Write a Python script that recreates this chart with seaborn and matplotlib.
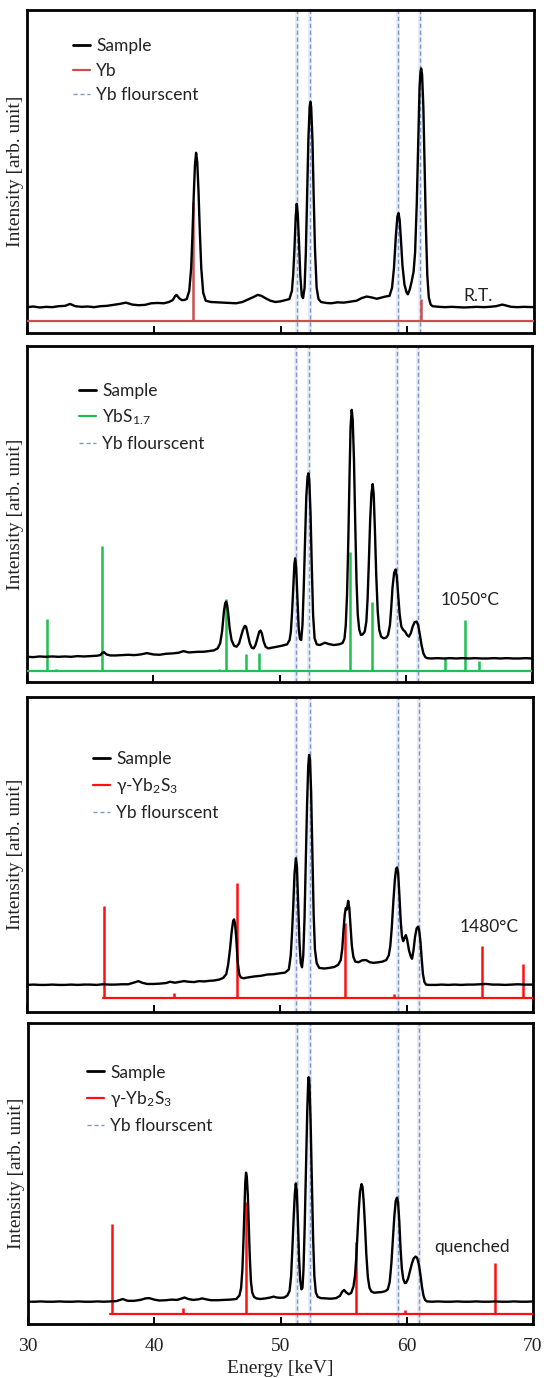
import numpy as np
import pandas as pd
import matplotlib
matplotlib.use("Agg")
import matplotlib.pyplot as plt
import seaborn as sns
from matplotlib.lines import Line2D

# ---------------- data ----------------
fluor_lines = [51.28, 52.36, 59.30, 60.97]
x_ticks = [30, 40, 50, 60, 70]

# Panel 1 (R.T.) sample spectrum: (energy keV, intensity arb.)
p1_sample = [
    (30.0, 8.0), (30.5, 8.2), (31.0, 7.9), (31.5, 8.1), (32.0, 8.0), (32.5, 8.3), (33.0, 8.4),
    (33.4, 9.0), (33.8, 8.3), (34.3, 8.1), (34.8, 8.2), (35.3, 8.0), (35.8, 8.3), (36.3, 8.4),
    (36.8, 8.7), (37.3, 9.0), (37.8, 9.4), (38.3, 8.8), (38.8, 8.6), (39.3, 8.7), (39.8, 9.2),
    (40.3, 9.3), (40.8, 9.2), (41.2, 9.6), (41.5, 10.2), (41.7, 11.5), (41.8, 11.8), (42.0, 10.8),
    (42.2, 10.2), (42.4, 10.2), (42.6, 10.5), (42.8, 13.0), (42.95, 20.0), (43.05, 30.0),
    (43.15, 42.0), (43.25, 52.0), (43.34, 55.8), (43.43, 53.0), (43.53, 44.0), (43.63, 32.0),
    (43.75, 20.0), (43.9, 12.5), (44.1, 10.0), (44.5, 9.6), (45.0, 9.5), (45.5, 9.4), (46.0, 9.3),
    (46.5, 9.2), (47.0, 9.6), (47.5, 10.5), (47.9, 11.2), (48.2, 11.8), (48.5, 11.5), (48.8, 10.8),
    (49.2, 10.0), (49.6, 9.6), (50.0, 9.8), (50.4, 10.2), (50.7, 10.5), (50.9, 13.0), (51.0, 18.0),
    (51.1, 26.0), (51.2, 36.0), (51.28, 40.0), (51.36, 37.0), (51.46, 28.0), (51.56, 18.0),
    (51.68, 11.5), (51.78, 10.8), (51.9, 14.0), (52.0, 25.0), (52.1, 42.0), (52.2, 60.0),
    (52.3, 70.0), (52.36, 71.6), (52.42, 70.0), (52.52, 60.0), (52.62, 42.0), (52.72, 26.0),
    (52.85, 14.0), (53.0, 10.5), (53.2, 9.6), (53.6, 9.3), (54.0, 9.2), (54.5, 9.5), (55.0, 9.4),
    (55.5, 9.7), (56.0, 10.0), (56.4, 10.8), (56.8, 11.3), (57.2, 11.0), (57.6, 10.6), (58.0, 11.0),
    (58.3, 11.3), (58.6, 11.5), (58.8, 14.0), (58.95, 20.0), (59.1, 30.0), (59.22, 36.0),
    (59.31, 37.1), (59.4, 35.0), (59.5, 29.0), (59.62, 21.0), (59.78, 15.0), (59.95, 12.5),
    (60.05, 12.0), (60.2, 13.5), (60.35, 16.0), (60.5, 19.0), (60.62, 25.0), (60.75, 40.0),
    (60.87, 60.0), (60.97, 76.0), (61.05, 81.0), (61.1, 81.9), (61.17, 80.0), (61.27, 70.0),
    (61.37, 52.0), (61.47, 33.0), (61.58, 18.0), (61.7, 11.0), (61.85, 8.8), (62.0, 8.3),
    (62.5, 8.1), (63.0, 8.0), (63.5, 8.1), (64.0, 8.0), (64.5, 7.9), (65.0, 8.0), (65.5, 8.1),
    (66.0, 8.0), (66.5, 8.1), (67.0, 8.3), (67.5, 8.8), (67.8, 8.5), (68.2, 8.1), (68.7, 8.0),
    (69.2, 8.1), (70.0, 8.0)]
p1_ref_E = [43.12, 61.05]
p1_ref_I = [40.6, 10.5]
p1_ref_base = 3.7

# Panel 2 (1050 C)
p2_sample = [
    (30.0, 7.5), (30.5, 7.4), (31.0, 7.6), (31.5, 7.5), (32.0, 7.6), (32.5, 7.5), (33.0, 7.6),
    (33.5, 7.5), (34.0, 7.7), (34.5, 7.6), (35.0, 7.7), (35.5, 7.8), (35.8, 8.0), (36.0, 8.8),
    (36.1, 8.9), (36.3, 8.2), (36.6, 7.9), (37.0, 7.9), (37.5, 8.0), (38.0, 8.1), (38.5, 8.0),
    (39.0, 8.2), (39.5, 8.6), (40.0, 8.2), (40.5, 8.1), (41.0, 8.4), (41.5, 8.5), (42.0, 8.7),
    (42.4, 9.2), (42.8, 8.8), (43.2, 8.9), (43.6, 9.0), (44.0, 9.0), (44.4, 9.2), (44.8, 9.4),
    (45.1, 10.0), (45.3, 11.5), (45.45, 15.0), (45.6, 21.0), (45.7, 23.5), (45.77, 23.9),
    (45.85, 23.0), (45.95, 20.0), (46.05, 16.0), (46.2, 12.5), (46.4, 10.8), (46.6, 10.5),
    (46.8, 11.5), (46.95, 13.5), (47.1, 15.5), (47.25, 16.7), (47.35, 16.5), (47.5, 14.0),
    (47.65, 11.5), (47.8, 10.2), (47.95, 10.0), (48.1, 11.0), (48.25, 13.0), (48.4, 15.0),
    (48.5, 15.3), (48.6, 14.5), (48.75, 12.0), (48.9, 10.5), (49.1, 10.0), (49.4, 10.2),
    (49.8, 10.5), (50.2, 10.8), (50.6, 11.2), (50.8, 12.5), (50.9, 15.0), (51.0, 21.0),
    (51.1, 29.0), (51.18, 35.0), (51.24, 36.8), (51.32, 34.0), (51.42, 25.0), (51.52, 16.0),
    (51.62, 12.8), (51.72, 12.5), (51.82, 17.0), (51.92, 28.0), (52.02, 42.0), (52.12, 55.0),
    (52.22, 61.0), (52.29, 62.1), (52.36, 60.0), (52.46, 50.0), (52.56, 34.0), (52.66, 20.0),
    (52.78, 13.0), (52.95, 11.2), (53.2, 11.0), (53.6, 11.7), (53.9, 11.3), (54.3, 11.0),
    (54.7, 11.2), (55.0, 11.6), (55.15, 13.0), (55.25, 17.0), (55.35, 26.0), (55.45, 42.0),
    (55.55, 62.0), (55.63, 76.0), (55.72, 81.0), (55.8, 78.0), (55.9, 66.0), (56.0, 47.0),
    (56.1, 30.0), (56.2, 20.0), (56.32, 15.5), (56.45, 14.0), (56.6, 14.2), (56.75, 15.0),
    (56.88, 18.0), (56.98, 25.0), (57.08, 36.0), (57.18, 48.0), (57.28, 56.0), (57.38, 58.9),
    (57.46, 56.0), (57.56, 45.0), (57.66, 32.0), (57.78, 21.0), (57.9, 15.5), (58.05, 13.5),
    (58.25, 13.0), (58.45, 13.2), (58.6, 14.0), (58.75, 17.0), (58.85, 22.0), (58.95, 28.0),
    (59.08, 32.5), (59.2, 33.5), (59.3, 31.0), (59.4, 26.0), (59.52, 20.0), (59.65, 16.5),
    (59.8, 15.5), (59.95, 15.0), (60.1, 14.0), (60.25, 13.5), (60.4, 14.5), (60.55, 16.5),
    (60.7, 17.8), (60.86, 18.0), (60.98, 17.0), (61.1, 14.5), (61.25, 11.0), (61.4, 8.5),
    (61.55, 7.4), (61.7, 7.1), (62.0, 7.0), (62.5, 7.1), (63.0, 7.0), (63.5, 7.1), (64.0, 7.0),
    (64.5, 7.1), (65.0, 7.0), (65.5, 7.1), (66.0, 7.0), (66.5, 7.0), (67.0, 7.1), (67.5, 7.0),
    (68.0, 7.1), (68.5, 7.0), (69.0, 7.0), (69.5, 7.1), (70.0, 7.0)]
p2_ref_E = [31.57, 32.3, 35.97, 45.2, 45.77, 47.35, 48.40, 55.58, 57.32, 63.12, 64.72, 65.83]
p2_ref_I = [18.7, 3.9, 40.5, 3.9, 24.6, 8.3, 8.7, 38.8, 23.9, 7.0, 18.5, 6.3]
p2_ref_base = 3.3

# Panel 3 (1480 C)
p3_sample = [
    (30.0, 8.6), (30.5, 8.7), (31.0, 8.6), (31.5, 8.6), (32.0, 8.7), (32.5, 8.6), (33.0, 8.6),
    (33.5, 8.7), (34.0, 8.6), (34.5, 8.7), (35.0, 8.7), (35.5, 8.6), (36.0, 8.8), (36.5, 8.7),
    (37.0, 8.7), (37.5, 8.8), (38.0, 8.8), (38.5, 9.4), (38.8, 9.8), (39.1, 9.3), (39.5, 8.9),
    (40.0, 8.9), (40.5, 9.0), (41.0, 9.2), (41.3, 9.6), (41.7, 9.3), (42.0, 9.5), (42.4, 9.8),
    (42.8, 9.6), (43.2, 9.5), (43.6, 9.8), (44.0, 9.7), (44.4, 9.9), (44.8, 10.0), (45.2, 10.3),
    (45.5, 10.8), (45.75, 12.0), (45.9, 15.0), (46.05, 20.0), (46.18, 25.5), (46.3, 29.0),
    (46.37, 29.4), (46.45, 28.0), (46.55, 23.0), (46.65, 16.0), (46.78, 12.0), (46.9, 11.0),
    (47.1, 10.7), (47.5, 11.0), (48.0, 11.3), (48.5, 11.5), (49.0, 11.9), (49.5, 12.0),
    (50.0, 12.3), (50.4, 12.5), (50.7, 13.5), (50.85, 18.0), (50.95, 25.0), (51.05, 34.0),
    (51.15, 44.0), (51.26, 48.8), (51.34, 46.0), (51.44, 34.0), (51.54, 22.0), (51.64, 15.5),
    (51.74, 14.2), (51.84, 18.0), (51.94, 30.0), (52.04, 48.0), (52.14, 66.0), (52.23, 78.0),
    (52.3, 81.6), (52.37, 80.0), (52.46, 70.0), (52.56, 50.0), (52.66, 31.0), (52.76, 20.0),
    (52.9, 15.5), (53.1, 14.0), (53.5, 13.8), (53.9, 14.0), (54.3, 14.3), (54.6, 15.0),
    (54.8, 16.5), (54.92, 20.0), (55.02, 26.0), (55.12, 31.0), (55.2, 33.0), (55.28, 32.5),
    (55.39, 35.3), (55.48, 33.0), (55.58, 27.0), (55.68, 21.0), (55.8, 17.5), (55.95, 16.0),
    (56.2, 15.8), (56.5, 16.4), (56.8, 16.5), (57.1, 15.8), (57.4, 15.6), (57.8, 15.8),
    (58.1, 16.0), (58.4, 16.5), (58.6, 18.0), (58.72, 21.0), (58.84, 27.0), (58.96, 35.0),
    (59.08, 42.0), (59.18, 45.5), (59.26, 45.9), (59.34, 44.0), (59.44, 37.0), (59.54, 29.0),
    (59.64, 24.0), (59.74, 22.5), (59.84, 23.5), (59.95, 24.4), (60.05, 23.0), (60.2, 19.5),
    (60.35, 17.5), (60.44, 16.9), (60.55, 19.5), (60.68, 24.0), (60.8, 26.5), (60.91, 27.1),
    (61.0, 26.0), (61.1, 22.5), (61.2, 17.0), (61.3, 12.0), (61.42, 9.5), (61.55, 8.7),
    (61.8, 8.6), (62.3, 8.6), (62.8, 8.7), (63.3, 8.6), (63.8, 8.7), (64.3, 8.6), (64.8, 8.7),
    (65.3, 8.7), (65.8, 8.8), (66.3, 8.9), (66.8, 8.7), (67.3, 8.7), (67.8, 8.6), (68.3, 8.7),
    (68.8, 8.8), (69.3, 8.7), (70.0, 8.7)]
p3_ref_E = [36.08, 41.66, 46.59, 55.17, 58.98, 65.96, 69.19]
p3_ref_I = [33.7, 6.1, 41.1, 28.1, 5.7, 21.0, 15.2]
p3_ref_base = 4.3

# Panel 4 (quenched)
p4_sample = [
    (30.0, 7.4), (30.5, 7.4), (31.0, 7.5), (31.5, 7.4), (32.0, 7.4), (32.5, 7.5), (33.0, 7.4),
    (33.5, 7.4), (34.0, 7.5), (34.5, 7.4), (35.0, 7.4), (35.5, 7.5), (36.0, 7.4), (36.5, 7.5),
    (37.0, 7.6), (37.5, 8.3), (37.9, 7.7), (38.4, 7.7), (38.9, 8.0), (39.3, 8.5), (39.6, 8.6),
    (40.0, 8.1), (40.4, 7.8), (40.9, 7.9), (41.4, 8.1), (41.8, 8.0), (42.2, 8.5), (42.4, 8.8),
    (42.7, 8.3), (43.1, 8.0), (43.5, 8.2), (43.8, 8.5), (44.1, 8.2), (44.5, 7.9), (45.0, 7.9),
    (45.5, 8.0), (46.0, 8.1), (46.5, 8.3), (46.75, 9.5), (46.88, 12.0), (46.98, 18.0),
    (47.06, 27.0), (47.14, 38.0), (47.21, 47.0), (47.27, 50.3), (47.33, 49.0), (47.41, 43.0),
    (47.49, 33.0), (47.57, 22.0), (47.66, 14.0), (47.76, 10.5), (47.9, 9.0), (48.1, 8.5),
    (48.4, 8.3), (48.8, 8.5), (49.2, 8.8), (49.45, 9.1), (49.7, 8.8), (50.0, 8.7), (50.3, 8.8),
    (50.55, 9.5), (50.72, 11.0), (50.84, 16.0), (50.94, 25.0), (51.04, 35.0), (51.13, 43.0),
    (51.21, 46.7), (51.29, 44.0), (51.38, 34.0), (51.47, 22.0), (51.56, 14.5), (51.66, 11.5),
    (51.74, 12.0), (51.82, 18.0), (51.92, 33.0), (52.02, 52.0), (52.12, 71.0), (52.19, 80.0),
    (52.23, 82.0), (52.29, 80.0), (52.38, 68.0), (52.48, 48.0), (52.58, 29.0), (52.68, 16.0),
    (52.8, 10.5), (52.95, 9.0), (53.2, 8.6), (53.6, 8.5), (54.0, 8.4), (54.4, 8.6), (54.7, 9.3),
    (54.9, 10.8), (55.04, 11.3), (55.2, 10.5), (55.4, 9.9), (55.6, 10.3), (55.78, 12.5),
    (55.9, 16.0), (56.0, 22.0), (56.1, 30.0), (56.2, 38.0), (56.3, 44.0), (56.42, 46.5),
    (56.5, 45.5), (56.6, 40.0), (56.7, 32.0), (56.8, 23.0), (56.92, 15.5), (57.05, 12.0),
    (57.2, 10.8), (57.4, 10.4), (57.7, 10.5), (58.0, 10.6), (58.3, 10.9), (58.5, 11.5),
    (58.65, 14.0), (58.78, 20.0), (58.9, 28.0), (59.02, 36.0), (59.13, 41.0), (59.23, 42.0),
    (59.31, 40.5), (59.41, 34.0), (59.51, 25.0), (59.61, 18.5), (59.72, 15.0), (59.85, 13.6),
    (59.95, 13.7), (60.1, 15.0), (60.25, 17.5), (60.4, 20.0), (60.55, 21.8), (60.7, 22.4),
    (60.82, 22.0), (60.95, 20.0), (61.08, 16.5), (61.2, 12.5), (61.32, 9.5), (61.45, 8.0),
    (61.6, 7.5), (62.0, 7.4), (62.5, 7.5), (63.0, 7.4), (63.5, 7.4), (64.0, 7.5), (64.5, 7.4),
    (65.0, 7.4), (65.5, 7.5), (66.0, 7.4), (66.5, 7.4), (67.0, 7.5), (67.5, 7.4), (68.0, 7.4),
    (68.5, 7.5), (69.0, 7.4), (69.5, 7.4), (70.0, 7.5)]
p4_ref_E = [36.64, 42.29, 47.30, 56.0, 59.86, 67.0]
p4_ref_I = [33.1, 5.2, 40.6, 27.3, 4.7, 20.2]
p4_ref_base = 3.3

# ---------------- style ----------------
sns.set_theme(style="white")
plt.rcParams["font.family"] = ["Lato", "DejaVu Sans"]
plt.rcParams["mathtext.fontset"] = "custom"
plt.rcParams["mathtext.rm"] = "Lato"
plt.rcParams["mathtext.it"] = "Lato:italic"

W, H = 544, 1378
fig = plt.figure(figsize=(W / 100, H / 100), dpi=100)

# (left, top, right, bottom) in pixels
boxes = [(27, 10, 534, 333), (27, 346, 532, 682), (27, 697, 533, 1012), (28, 1023, 533, 1324)]

panels = [
    dict(S=p1_sample, rE=p1_ref_E, rI=p1_ref_I, base=p1_ref_base, rstart=30.0,
         color="#c9504f", ref_label="Yb", note="R.T.", note_xy=(65.6, 11.5),
         leg=(0.090, 0.913)),
    dict(S=p2_sample, rE=p2_ref_E, rI=p2_ref_I, base=p2_ref_base, rstart=30.0,
         color="#1fbf50", ref_label="YbS$_{1.7}$", note="1050°C", note_xy=(65.1, 24.4),
         leg=(0.102, 0.891)),
    dict(S=p3_sample, rE=p3_ref_E, rI=p3_ref_I, base=p3_ref_base, rstart=36.0,
         color="#ff1010", ref_label="γ-Yb$_2$S$_3$", note="1480°C", note_xy=(66.5, 27.1),
         leg=(0.130, 0.827)),
    dict(S=p4_sample, rE=p4_ref_E, rI=p4_ref_I, base=p4_ref_base, rstart=36.5,
         color="#ff1010", ref_label="γ-Yb$_2$S$_3$", note="quenched", note_xy=(65.2, 25.7),
         leg=(0.116, 0.862)),
]

dash_color = "#7f97c6"
serif = ["Liberation Serif", "DejaVu Serif"]

for k, (box, p) in enumerate(zip(boxes, panels)):
    l, t, r, b = box
    ax = fig.add_axes([l / W, 1 - b / H, (r - l) / W, (b - t) / H])

    # fluorescent reference lines
    for e in fluor_lines:
        ax.axvline(e, color="#e4eaf5", lw=2.6, zorder=1)
        ax.axvline(e, color=dash_color, lw=1.0, ls=(0, (3, 2)), zorder=2)

    # reference stick pattern
    ax.plot([p["rstart"], 70], [p["base"], p["base"]], color=p["color"], lw=1.6, zorder=3)
    ax.vlines(p["rE"], p["base"], p["rI"], color=p["color"], lw=1.8, zorder=3)

    # sample spectrum
    df = pd.DataFrame(p["S"], columns=["E", "I"])
    sns.lineplot(data=df, x="E", y="I", ax=ax, color="black", lw=1.7, zorder=4,
                 estimator=None, sort=False)

    ax.set_xlim(30, 70)
    ax.set_ylim(0, 100)
    ax.set_yticks([])
    ax.set_xticks(x_ticks)
    ax.tick_params(axis="x", direction="in", length=5, width=1.4, color="black",
                   bottom=True, top=False, pad=10)
    for s in ax.spines.values():
        s.set_color("black")
        s.set_linewidth(2.0)

    ax.set_ylabel("Intensity [arb. unit]", family=serif, fontsize=14, color="#222222")
    ax.yaxis.set_label_coords(-0.006, 0.5)

    if k == 3:
        ax.set_xticklabels([str(v) for v in x_ticks], family=serif, fontsize=14, color="#222222")
        ax.set_xlabel("Energy [keV]", family=serif, fontsize=14, color="#222222")
        ax.xaxis.set_label_coords(0.5, -0.118)
    else:
        ax.set_xticklabels([])
        ax.set_xlabel("")

    ax.text(p["note_xy"][0], p["note_xy"][1], p["note"], ha="center", va="center",
            fontsize=12.5, color="#222222")

    handles = [Line2D([], [], color="black", lw=2.0),
               Line2D([], [], color=p["color"], lw=1.6),
               Line2D([], [], color=dash_color, lw=1.0, ls=(0, (3, 2)))]
    labels = ["Sample", p["ref_label"], "Yb flourscent"]
    leg = ax.legend(handles, labels, loc="upper left", bbox_to_anchor=p["leg"],
                    frameon=False, fontsize=12.5, handlelength=1.0, handletextpad=0.35,
                    labelspacing=0.5, borderpad=0, borderaxespad=0)
    for txt in leg.get_texts():
        txt.set_color("#222222")

fig.savefig("out.png", dpi=100)
